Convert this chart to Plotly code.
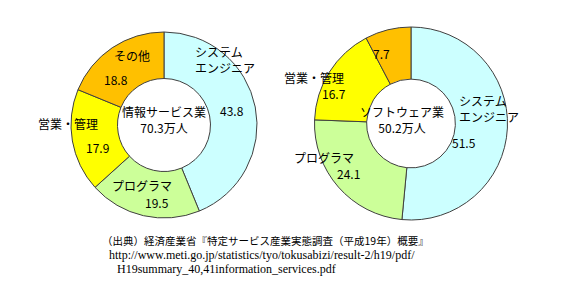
import plotly.graph_objects as go

W, H = 578, 282

categories = ["システムエンジニア", "プログラマ", "営業・管理", "その他"]
cat_display = ["システム<br>エンジニア", "プログラマ", "営業・管理", "その他"]
colors = ["#CCFFFF", "#CCFF99", "#FFFF00", "#FFC000"]

info_values = [43.8, 19.5, 17.9, 18.8]
soft_values = [51.5, 24.1, 16.7, 7.7]

info_title = "情報サービス業"
info_total = "70.3万人"
soft_title = "ソフトウェア業"
soft_total = "50.2万人"

source_lines = [
    "（出典）経済産業省『特定サービス産業実態調査（平成19年）概要』",
    "http://www.meti.go.jp/statistics/tyo/tokusabizi/result-2/h19/pdf/",
    "H19summary_40,41information_services.pdf",
]

JP = "Noto Sans CJK JP"
SERIF = "Liberation Serif"


def px(x):
    return x / W


def py(y):
    return 1 - y / H


fig = go.Figure()

fig.add_trace(go.Pie(
    labels=categories, values=info_values, sort=False, direction="clockwise",
    rotation=0, hole=0.5, marker=dict(colors=colors, line=dict(color="#404040", width=1)),
    textinfo="none", hoverinfo="none", showlegend=False,
    domain=dict(x=[px(71), px(257)], y=[py(218), py(32)]),
))
fig.add_trace(go.Pie(
    labels=categories, values=soft_values, sort=False, direction="clockwise",
    rotation=0, hole=0.46, marker=dict(colors=colors, line=dict(color="#404040", width=1)),
    textinfo="none", hoverinfo="none", showlegend=False,
    domain=dict(x=[px(313), px(509)], y=[py(220), py(27)]),
))

anns = []


def ann(text, x, y, size=12, xanchor="center", family=JP, align="center"):
    anns.append(dict(text=text, x=px(x), y=py(y), xref="paper", yref="paper",
                     showarrow=False, xanchor=xanchor, yanchor="middle", align=align,
                     font=dict(family=family, size=size, color="#000000")))


# left donut labels
ann(cat_display[0], 193, 60, xanchor="left", align="left")
ann(f"{info_values[0]}", 232, 110)
ann(cat_display[1], 142, 185)
ann(f"{info_values[1]}", 157, 202)
ann(cat_display[2], 68, 123)
ann(f"{info_values[2]}", 97, 147)
ann(cat_display[3], 132, 55)
ann(f"{info_values[3]}", 116, 80)
ann(f"{info_title}<br>{info_total}", 164, 119)

# right donut labels
ann(cat_display[0], 457, 108, xanchor="left", align="left")
ann(f"{soft_values[0]}", 464, 142)
ann(cat_display[1], 324, 157)
ann(f"{soft_values[1]}", 348, 173)
ann(cat_display[2], 314, 77)
ann(f"{soft_values[2]}", 334, 93)
ann(f"{soft_values[3]}", 381, 53)
ann(f"{soft_title}<br>{soft_total}", 402, 119)

# source
ann(source_lines[0], 100, 240, size=10.5, xanchor="left")
ann(source_lines[1], 107, 255, size=12, xanchor="left", family=SERIF)
ann(source_lines[2], 115, 269, size=12, xanchor="left", family=SERIF)

fig.update_layout(
    width=W, height=H, margin=dict(l=0, r=0, t=0, b=0),
    paper_bgcolor="#FFFFFF", plot_bgcolor="#FFFFFF",
    annotations=anns,
)

fig.write_html("out.html")
